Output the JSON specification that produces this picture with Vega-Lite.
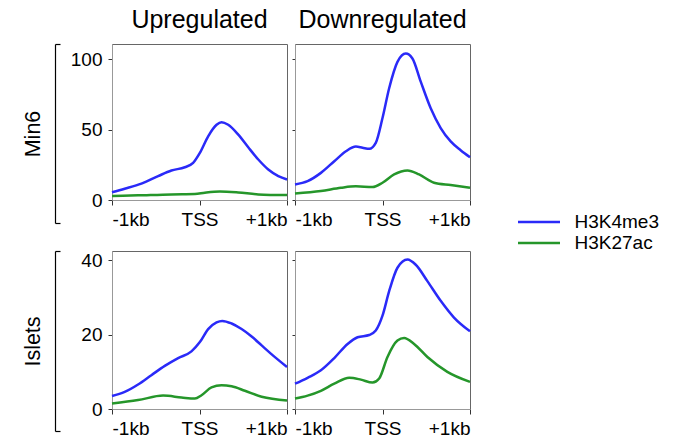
{
  "$schema": "https://vega.github.io/schema/vega-lite/v6.json",
  "padding": {"left": 22, "top": 7, "right": 0, "bottom": 0},
  "datasets": {
    "profiles": [
      {"sample":"Min6","group":"Up","histone":"H3K4me3","pos":-1000,"signal":5.5},
      {"sample":"Min6","group":"Up","histone":"H3K4me3","pos":-855,"signal":8.0},
      {"sample":"Min6","group":"Up","histone":"H3K4me3","pos":-664,"signal":11.6},
      {"sample":"Min6","group":"Up","histone":"H3K4me3","pos":-473,"signal":17.0},
      {"sample":"Min6","group":"Up","histone":"H3K4me3","pos":-321,"signal":21.0},
      {"sample":"Min6","group":"Up","histone":"H3K4me3","pos":-168,"signal":23.3},
      {"sample":"Min6","group":"Up","histone":"H3K4me3","pos":-73,"signal":26.4},
      {"sample":"Min6","group":"Up","histone":"H3K4me3","pos":4,"signal":33.5},
      {"sample":"Min6","group":"Up","histone":"H3K4me3","pos":99,"signal":45.3},
      {"sample":"Min6","group":"Up","histone":"H3K4me3","pos":195,"signal":53.5},
      {"sample":"Min6","group":"Up","histone":"H3K4me3","pos":252,"signal":55.4},
      {"sample":"Min6","group":"Up","histone":"H3K4me3","pos":328,"signal":53.5},
      {"sample":"Min6","group":"Up","histone":"H3K4me3","pos":443,"signal":46.5},
      {"sample":"Min6","group":"Up","histone":"H3K4me3","pos":557,"signal":37.5},
      {"sample":"Min6","group":"Up","histone":"H3K4me3","pos":672,"signal":28.8},
      {"sample":"Min6","group":"Up","histone":"H3K4me3","pos":786,"signal":21.7},
      {"sample":"Min6","group":"Up","histone":"H3K4me3","pos":901,"signal":17.0},
      {"sample":"Min6","group":"Up","histone":"H3K4me3","pos":1000,"signal":14.6},
      {"sample":"Min6","group":"Up","histone":"H3K27ac","pos":-1000,"signal":2.8},
      {"sample":"Min6","group":"Up","histone":"H3K27ac","pos":-702,"signal":3.3},
      {"sample":"Min6","group":"Up","histone":"H3K27ac","pos":-321,"signal":4.0},
      {"sample":"Min6","group":"Up","histone":"H3K27ac","pos":-53,"signal":4.2},
      {"sample":"Min6","group":"Up","histone":"H3K27ac","pos":61,"signal":5.2},
      {"sample":"Min6","group":"Up","histone":"H3K27ac","pos":233,"signal":6.1},
      {"sample":"Min6","group":"Up","histone":"H3K27ac","pos":443,"signal":5.4},
      {"sample":"Min6","group":"Up","histone":"H3K27ac","pos":672,"signal":4.0},
      {"sample":"Min6","group":"Up","histone":"H3K27ac","pos":1000,"signal":3.5},
      {"sample":"Min6","group":"Down","histone":"H3K4me3","pos":-1000,"signal":11.1},
      {"sample":"Min6","group":"Down","histone":"H3K4me3","pos":-856,"signal":13.4},
      {"sample":"Min6","group":"Down","histone":"H3K4me3","pos":-704,"signal":19.3},
      {"sample":"Min6","group":"Down","histone":"H3K4me3","pos":-551,"signal":27.6},
      {"sample":"Min6","group":"Down","histone":"H3K4me3","pos":-418,"signal":34.7},
      {"sample":"Min6","group":"Down","histone":"H3K4me3","pos":-304,"signal":38.0},
      {"sample":"Min6","group":"Down","histone":"H3K4me3","pos":-228,"signal":37.2},
      {"sample":"Min6","group":"Down","histone":"H3K4me3","pos":-150,"signal":36.4},
      {"sample":"Min6","group":"Down","histone":"H3K4me3","pos":-77,"signal":40.6},
      {"sample":"Min6","group":"Down","histone":"H3K4me3","pos":0,"signal":58.3},
      {"sample":"Min6","group":"Down","histone":"H3K4me3","pos":76,"signal":79.5},
      {"sample":"Min6","group":"Down","histone":"H3K4me3","pos":171,"signal":98.3},
      {"sample":"Min6","group":"Down","histone":"H3K4me3","pos":266,"signal":104.2},
      {"sample":"Min6","group":"Down","histone":"H3K4me3","pos":342,"signal":100.7},
      {"sample":"Min6","group":"Down","histone":"H3K4me3","pos":437,"signal":84.2},
      {"sample":"Min6","group":"Down","histone":"H3K4me3","pos":551,"signal":65.3},
      {"sample":"Min6","group":"Down","histone":"H3K4me3","pos":665,"signal":51.2},
      {"sample":"Min6","group":"Down","histone":"H3K4me3","pos":779,"signal":41.7},
      {"sample":"Min6","group":"Down","histone":"H3K4me3","pos":893,"signal":35.4},
      {"sample":"Min6","group":"Down","histone":"H3K4me3","pos":1000,"signal":30.4},
      {"sample":"Min6","group":"Down","histone":"H3K27ac","pos":-1000,"signal":4.7},
      {"sample":"Min6","group":"Down","histone":"H3K27ac","pos":-704,"signal":6.4},
      {"sample":"Min6","group":"Down","histone":"H3K27ac","pos":-475,"signal":8.7},
      {"sample":"Min6","group":"Down","histone":"H3K27ac","pos":-304,"signal":9.7},
      {"sample":"Min6","group":"Down","histone":"H3K27ac","pos":-114,"signal":9.2},
      {"sample":"Min6","group":"Down","histone":"H3K27ac","pos":0,"signal":12.3},
      {"sample":"Min6","group":"Down","histone":"H3K27ac","pos":133,"signal":18.2},
      {"sample":"Min6","group":"Down","histone":"H3K27ac","pos":285,"signal":21.0},
      {"sample":"Min6","group":"Down","histone":"H3K27ac","pos":418,"signal":18.2},
      {"sample":"Min6","group":"Down","histone":"H3K27ac","pos":589,"signal":12.3},
      {"sample":"Min6","group":"Down","histone":"H3K27ac","pos":779,"signal":10.6},
      {"sample":"Min6","group":"Down","histone":"H3K27ac","pos":1000,"signal":8.7},
      {"sample":"Islets","group":"Up","histone":"H3K4me3","pos":-1000,"signal":3.5},
      {"sample":"Islets","group":"Up","histone":"H3K4me3","pos":-855,"signal":4.6},
      {"sample":"Islets","group":"Up","histone":"H3K4me3","pos":-702,"signal":6.6},
      {"sample":"Islets","group":"Up","histone":"H3K4me3","pos":-550,"signal":9.1},
      {"sample":"Islets","group":"Up","histone":"H3K4me3","pos":-397,"signal":11.6},
      {"sample":"Islets","group":"Up","histone":"H3K4me3","pos":-244,"signal":13.7},
      {"sample":"Islets","group":"Up","histone":"H3K4me3","pos":-92,"signal":15.5},
      {"sample":"Islets","group":"Up","histone":"H3K4me3","pos":4,"signal":18.0},
      {"sample":"Islets","group":"Up","histone":"H3K4me3","pos":99,"signal":21.5},
      {"sample":"Islets","group":"Up","histone":"H3K4me3","pos":195,"signal":23.3},
      {"sample":"Islets","group":"Up","histone":"H3K4me3","pos":260,"signal":23.7},
      {"sample":"Islets","group":"Up","histone":"H3K4me3","pos":367,"signal":23.0},
      {"sample":"Islets","group":"Up","histone":"H3K4me3","pos":481,"signal":21.5},
      {"sample":"Islets","group":"Up","histone":"H3K4me3","pos":596,"signal":19.5},
      {"sample":"Islets","group":"Up","histone":"H3K4me3","pos":710,"signal":17.1},
      {"sample":"Islets","group":"Up","histone":"H3K4me3","pos":825,"signal":14.7},
      {"sample":"Islets","group":"Up","histone":"H3K4me3","pos":1000,"signal":11.3},
      {"sample":"Islets","group":"Up","histone":"H3K27ac","pos":-1000,"signal":1.5},
      {"sample":"Islets","group":"Up","histone":"H3K27ac","pos":-702,"signal":2.4},
      {"sample":"Islets","group":"Up","histone":"H3K27ac","pos":-416,"signal":3.6},
      {"sample":"Islets","group":"Up","histone":"H3K27ac","pos":-206,"signal":3.1},
      {"sample":"Islets","group":"Up","histone":"H3K27ac","pos":-53,"signal":2.8},
      {"sample":"Islets","group":"Up","histone":"H3K27ac","pos":23,"signal":3.7},
      {"sample":"Islets","group":"Up","histone":"H3K27ac","pos":137,"signal":5.8},
      {"sample":"Islets","group":"Up","histone":"H3K27ac","pos":252,"signal":6.4},
      {"sample":"Islets","group":"Up","histone":"H3K27ac","pos":367,"signal":6.1},
      {"sample":"Islets","group":"Up","histone":"H3K27ac","pos":519,"signal":4.9},
      {"sample":"Islets","group":"Up","histone":"H3K27ac","pos":710,"signal":3.3},
      {"sample":"Islets","group":"Up","histone":"H3K27ac","pos":1000,"signal":2.3},
      {"sample":"Islets","group":"Down","histone":"H3K4me3","pos":-1000,"signal":6.8},
      {"sample":"Islets","group":"Down","histone":"H3K4me3","pos":-856,"signal":8.4},
      {"sample":"Islets","group":"Down","histone":"H3K4me3","pos":-704,"signal":10.4},
      {"sample":"Islets","group":"Down","histone":"H3K4me3","pos":-551,"signal":13.7},
      {"sample":"Islets","group":"Down","histone":"H3K4me3","pos":-399,"signal":17.5},
      {"sample":"Islets","group":"Down","histone":"H3K4me3","pos":-285,"signal":19.3},
      {"sample":"Islets","group":"Down","histone":"H3K4me3","pos":-152,"signal":19.9},
      {"sample":"Islets","group":"Down","histone":"H3K4me3","pos":-77,"signal":21.1},
      {"sample":"Islets","group":"Down","histone":"H3K4me3","pos":0,"signal":25.1},
      {"sample":"Islets","group":"Down","histone":"H3K4me3","pos":76,"signal":31.7},
      {"sample":"Islets","group":"Down","histone":"H3K4me3","pos":171,"signal":38.0},
      {"sample":"Islets","group":"Down","histone":"H3K4me3","pos":285,"signal":40.2},
      {"sample":"Islets","group":"Down","histone":"H3K4me3","pos":380,"signal":38.8},
      {"sample":"Islets","group":"Down","histone":"H3K4me3","pos":513,"signal":34.4},
      {"sample":"Islets","group":"Down","histone":"H3K4me3","pos":665,"signal":29.1},
      {"sample":"Islets","group":"Down","histone":"H3K4me3","pos":817,"signal":24.6},
      {"sample":"Islets","group":"Down","histone":"H3K4me3","pos":1000,"signal":20.9},
      {"sample":"Islets","group":"Down","histone":"H3K27ac","pos":-1000,"signal":2.8},
      {"sample":"Islets","group":"Down","histone":"H3K27ac","pos":-856,"signal":3.6},
      {"sample":"Islets","group":"Down","histone":"H3K27ac","pos":-704,"signal":4.9},
      {"sample":"Islets","group":"Down","histone":"H3K27ac","pos":-551,"signal":6.8},
      {"sample":"Islets","group":"Down","histone":"H3K27ac","pos":-380,"signal":8.4},
      {"sample":"Islets","group":"Down","histone":"H3K27ac","pos":-247,"signal":7.9},
      {"sample":"Islets","group":"Down","histone":"H3K27ac","pos":-114,"signal":7.1},
      {"sample":"Islets","group":"Down","histone":"H3K27ac","pos":-38,"signal":8.2},
      {"sample":"Islets","group":"Down","histone":"H3K27ac","pos":57,"signal":14.0},
      {"sample":"Islets","group":"Down","histone":"H3K27ac","pos":171,"signal":18.4},
      {"sample":"Islets","group":"Down","histone":"H3K27ac","pos":247,"signal":19.1},
      {"sample":"Islets","group":"Down","histone":"H3K27ac","pos":361,"signal":17.5},
      {"sample":"Islets","group":"Down","histone":"H3K27ac","pos":513,"signal":14.0},
      {"sample":"Islets","group":"Down","histone":"H3K27ac","pos":741,"signal":10.0},
      {"sample":"Islets","group":"Down","histone":"H3K27ac","pos":1000,"signal":7.3}
    ]
  },
  "columns": 3,
  "bounds": "flush",
  "align": "each",
  "spacing": {"row": 28, "column": 8},
  "concat": [
    {
      "width": 48.5, "height": 179,
      "view": {"stroke": null},
      "data": {"values": [{"v": 0}, {"v": 1}]},
      "mark": {"type": "point", "opacity": 0},
      "encoding": {
        "y": {"field": "v", "type": "quantitative", "scale": {"domain": [0, 1], "nice": false, "zero": false},
          "axis": {"orient": "right", "offset": -48.5, "values": [0, 1], "labels": false, "tickSize": 5, "tickColor": "#000", "domainColor": "#000", "tickWidth": 1.2, "domainWidth": 1.2,
            "title": "Min6", "titleAngle": 270, "titleX": -22, "titleBaseline": "middle", "titleAlign": "center", "titleFontSize": 21.5, "titleFontWeight": "normal", "titleColor": "#000"}}
      }
    },
    {
      "width": 175, "height": 156,
      "title": "Upregulated",
      "data": {"name": "profiles"},
      "transform": [{"filter": "datum.sample == 'Min6' && datum.group == 'Up'"}],
      "mark": {"type": "line", "interpolate": "monotone", "strokeWidth": 2.5},
      "encoding": {
        "x": {"field": "pos", "type": "quantitative", "scale": {"domain": [-1000, 1000], "nice": false},
          "axis": {"values": [-1000, 0, 1000], "labelExpr": "datum.value == 0 ? 'TSS' : (datum.value < 0 ? '-1kb' : '+1kb')", "labelFlush": true, "tickSize": 5, "labelPadding": 5, "title": null}},
        "y": {"field": "signal", "type": "quantitative", "scale": {"domain": [0, 111], "nice": false},
          "axis": {"values": [0, 50, 100], "tickSize": 4, "labelPadding": 6, "title": null}},
        "color": {"field": "histone", "type": "nominal", "scale": {"domain": ["H3K4me3", "H3K27ac"], "range": ["#2a2af8", "#25962a"]}, "legend": {"title": null}}
      }
    },
    {
      "width": 175, "height": 156,
      "title": "Downregulated",
      "data": {"name": "profiles"},
      "transform": [{"filter": "datum.sample == 'Min6' && datum.group == 'Down'"}],
      "mark": {"type": "line", "interpolate": "monotone", "strokeWidth": 2.5},
      "encoding": {
        "x": {"field": "pos", "type": "quantitative", "scale": {"domain": [-1000, 1000], "nice": false},
          "axis": {"values": [-1000, 0, 1000], "labelExpr": "datum.value == 0 ? 'TSS' : (datum.value < 0 ? '-1kb' : '+1kb')", "labelFlush": true, "tickSize": 5, "labelPadding": 5, "title": null}},
        "y": {"field": "signal", "type": "quantitative", "scale": {"domain": [0, 111], "nice": false},
          "axis": {"values": [0, 50, 100], "labels": false, "tickSize": 3, "title": null}},
        "color": {"field": "histone", "type": "nominal", "scale": {"domain": ["H3K4me3", "H3K27ac"], "range": ["#2a2af8", "#25962a"]}, "legend": {"title": null}}
      }
    },
    {
      "width": 48.5, "height": 180,
      "view": {"stroke": null},
      "data": {"values": [{"v": 0}, {"v": 1}]},
      "mark": {"type": "point", "opacity": 0},
      "encoding": {
        "y": {"field": "v", "type": "quantitative", "scale": {"domain": [0, 1], "nice": false, "zero": false},
          "axis": {"orient": "right", "offset": -48.5, "values": [0, 1], "labels": false, "tickSize": 5, "tickColor": "#000", "domainColor": "#000", "tickWidth": 1.2, "domainWidth": 1.2,
            "title": "Islets", "titleAngle": 270, "titleX": -22, "titleBaseline": "middle", "titleAlign": "center", "titleFontSize": 21.5, "titleFontWeight": "normal", "titleColor": "#000"}}
      }
    },
    {
      "width": 175, "height": 158,
      "data": {"name": "profiles"},
      "transform": [{"filter": "datum.sample == 'Islets' && datum.group == 'Up'"}],
      "mark": {"type": "line", "interpolate": "monotone", "strokeWidth": 2.5},
      "encoding": {
        "x": {"field": "pos", "type": "quantitative", "scale": {"domain": [-1000, 1000], "nice": false},
          "axis": {"values": [-1000, 0, 1000], "labelExpr": "datum.value == 0 ? 'TSS' : (datum.value < 0 ? '-1kb' : '+1kb')", "labelFlush": true, "tickSize": 5, "labelPadding": 5, "title": null}},
        "y": {"field": "signal", "type": "quantitative", "scale": {"domain": [0, 42.5], "nice": false},
          "axis": {"values": [0, 20, 40], "tickSize": 4, "labelPadding": 6, "title": null}},
        "color": {"field": "histone", "type": "nominal", "scale": {"domain": ["H3K4me3", "H3K27ac"], "range": ["#2a2af8", "#25962a"]}, "legend": {"title": null}}
      }
    },
    {
      "width": 175, "height": 158,
      "data": {"name": "profiles"},
      "transform": [{"filter": "datum.sample == 'Islets' && datum.group == 'Down'"}],
      "mark": {"type": "line", "interpolate": "monotone", "strokeWidth": 2.5},
      "encoding": {
        "x": {"field": "pos", "type": "quantitative", "scale": {"domain": [-1000, 1000], "nice": false},
          "axis": {"values": [-1000, 0, 1000], "labelExpr": "datum.value == 0 ? 'TSS' : (datum.value < 0 ? '-1kb' : '+1kb')", "labelFlush": true, "tickSize": 5, "labelPadding": 5, "title": null}},
        "y": {"field": "signal", "type": "quantitative", "scale": {"domain": [0, 42.5], "nice": false},
          "axis": {"values": [0, 20, 40], "labels": false, "tickSize": 3, "title": null}},
        "color": {"field": "histone", "type": "nominal", "scale": {"domain": ["H3K4me3", "H3K27ac"], "range": ["#2a2af8", "#25962a"]}, "legend": {"title": null}}
      }
    }
  ],
  "config": {
    "font": "Liberation Sans",
    "view": {"stroke": "#666"},
    "axis": {"grid": false, "labelFontSize": 19, "labelColor": "#000", "tickColor": "#333", "domainColor": "#999", "labelFont": "Liberation Sans"},
    "title": {"fontSize": 25, "fontWeight": "normal", "anchor": "middle", "offset": 11, "color": "#000"},
    "legend": {"orient": "none", "legendX": 461.5, "legendY": 167.5, "direction": "vertical", "symbolType": "stroke", "symbolSize": 1764, "symbolStrokeWidth": 2.5, "labelFontSize": 19, "labelOffset": 13, "clipHeight": 21, "rowPadding": 0, "padding": 0, "labelColor": "#000"}
  }
}
